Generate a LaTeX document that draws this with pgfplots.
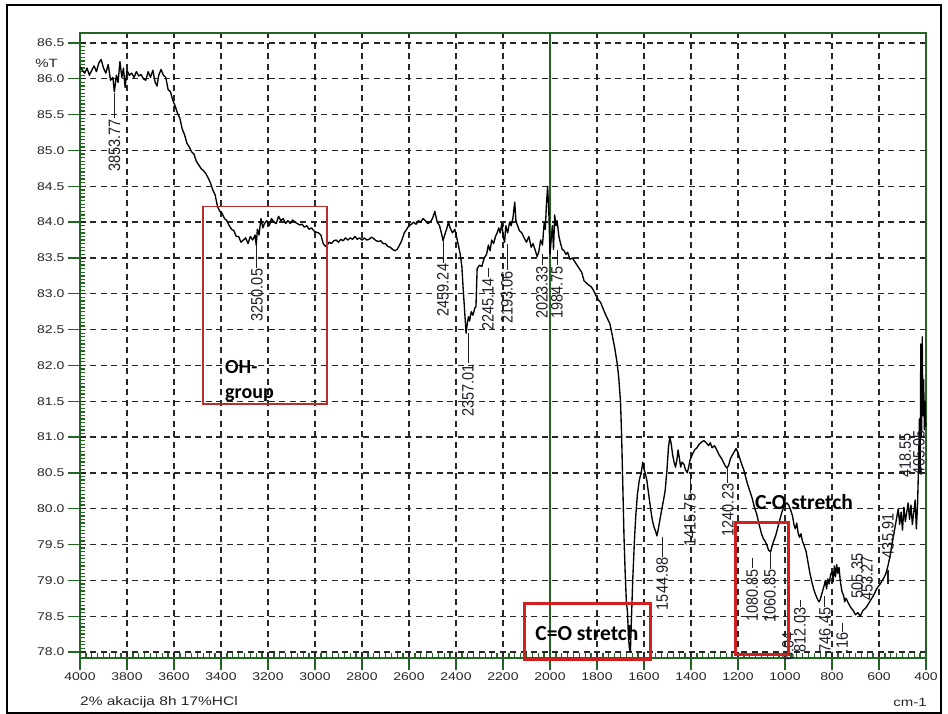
\documentclass[border=0pt]{standalone}
\usepackage{pgfplots}
\pgfplotsset{compat=1.18}
\usepackage{pgfplotstable}
\usepackage{fontspec}
\setmainfont{Liberation Sans}
\newfontfamily\annfont{Carlito}

\definecolor{axisgreen}{RGB}{34,100,34}
\definecolor{boxred}{RGB}{210,32,32}
\definecolor{ohred}{RGB}{185,45,45}
\definecolor{labelink}{RGB}{30,30,40}

% FTIR spectrum: wavenumber (cm-1) vs transmittance (%T)
\pgfplotstableread{
wn T
4000 86.17
3990 86.12
3980 86.08
3970 86.15
3960 86.05
3950 86.12
3940 86.18
3930 86.10
3920 86.22
3910 86.27
3900 86.15
3890 86.08
3880 86.20
3870 85.98
3860 86.02
3853.77 85.82
3845 86.05
3838 85.95
3830 86.24
3822 86.02
3815 86.15
3808 85.88
3800 86.12
3790 86.05
3780 86.08
3770 86.02
3760 86.10
3750 86.04
3740 86.06
3730 86.00
3720 85.98
3710 86.10
3700 86.02
3690 86.12
3680 85.95
3672 85.90
3665 86.05
3655 86.13
3645 86.05
3635 86.02
3625 85.85
3615 85.82
3605 85.70
3595 85.62
3585 85.52
3575 85.45
3565 85.30
3555 85.22
3545 85.10
3535 85.05
3525 84.98
3515 84.95
3505 84.85
3495 84.80
3485 84.75
3475 84.72
3465 84.68
3455 84.62
3445 84.55
3435 84.45
3425 84.38
3415 84.22
3405 84.15
3395 84.12
3385 84.05
3375 84.02
3365 83.95
3355 83.90
3345 83.88
3335 83.80
3325 83.80
3315 83.72
3305 83.75
3295 83.78
3285 83.70
3275 83.80
3265 83.75
3255 83.82
3250.05 83.68
3245 83.90
3238 83.82
3230 84.05
3222 83.92
3215 83.98
3205 84.02
3195 83.95
3185 84.05
3175 84.00
3165 83.98
3155 84.08
3145 84.02
3135 84.05
3125 83.98
3115 84.02
3105 83.98
3095 84.03
3085 84.00
3075 83.98
3065 83.96
3055 83.97
3045 83.93
3035 83.95
3025 83.90
3015 83.92
3005 83.88
2995 83.86
2985 83.85
2975 83.82
2965 83.70
2955 83.66
2948 83.68
2940 83.72
2930 83.70
2920 83.74
2910 83.75
2900 83.72
2890 83.76
2880 83.74
2870 83.78
2860 83.75
2850 83.78
2840 83.76
2830 83.80
2820 83.76
2810 83.78
2800 83.75
2790 83.78
2780 83.75
2770 83.76
2760 83.79
2750 83.77
2740 83.74
2730 83.73
2720 83.74
2710 83.70
2700 83.70
2690 83.66
2680 83.65
2670 83.62
2660 83.60
2650 83.62
2640 83.68
2630 83.75
2620 83.85
2610 83.90
2600 83.95
2590 83.97
2580 84.00
2570 83.97
2560 84.02
2550 84.00
2540 84.05
2530 84.02
2520 83.98
2510 84.00
2500 84.05
2490 84.15
2480 84.00
2470 83.95
2460 83.82
2455 83.74
2450 83.80
2440 83.90
2432 84.00
2425 83.92
2415 83.85
2405 83.90
2398 83.80
2390 83.68
2382 83.55
2375 83.38
2370 83.10
2365 82.85
2360 82.60
2357.01 82.45
2352 82.58
2347 82.68
2342 82.62
2335 82.75
2328 82.70
2320 82.80
2315 82.82
2310 83.35
2300 83.40
2290 83.38
2280 83.50
2270 83.55
2262 83.68
2255 83.60
2248 83.75
2240 83.70
2232 83.80
2225 83.85
2218 83.92
2212 83.85
2205 83.98
2198 83.78
2193.06 83.72
2188 83.95
2180 83.85
2172 84.00
2165 83.95
2158 84.05
2150 84.28
2145 84.02
2138 83.95
2130 83.88
2120 83.85
2110 83.78
2100 83.72
2090 83.80
2080 83.65
2072 83.70
2062 83.60
2055 83.52
2048 83.58
2040 83.75
2032 83.68
2025 83.98
2020 83.90
2015 84.25
2010 84.50
2005 84.15
2000 83.55
1995 83.75
1990 83.95
1985 83.62
1980 84.10
1975 83.95
1970 84.02
1962 83.80
1955 83.70
1948 83.62
1940 83.60
1932 83.55
1925 83.58
1915 83.48
1905 83.50
1895 83.45
1885 83.40
1875 83.35
1865 83.30
1855 83.18
1845 83.15
1835 83.12
1825 83.10
1815 83.05
1805 82.98
1795 82.92
1785 82.88
1775 82.80
1765 82.72
1755 82.65
1745 82.58
1735 82.42
1725 82.25
1715 82.05
1708 81.85
1700 81.50
1695 81.00
1690 80.30
1685 79.60
1680 79.10
1675 78.70
1670 78.55
1666 78.20
1662 78.05
1658 78.00
1655 78.30
1652 78.60
1648 79.00
1644 79.30
1640 79.60
1635 79.90
1628 80.20
1620 80.40
1612 80.50
1605 80.65
1600 80.55
1595 80.50
1588 80.40
1580 80.20
1572 80.00
1565 79.85
1558 79.75
1550 79.68
1544.98 79.62
1540 79.70
1532 79.85
1525 79.98
1518 80.10
1510 80.25
1502 80.55
1496 80.85
1490 81.00
1484 80.90
1478 80.75
1472 80.65
1466 80.58
1460 80.68
1455 80.82
1450 80.72
1444 80.58
1438 80.65
1430 80.62
1424 80.55
1415.75 80.50
1410 80.58
1404 80.68
1395 80.75
1385 80.82
1375 80.85
1365 80.90
1355 80.93
1345 80.95
1335 80.92
1325 80.88
1318 80.92
1310 80.85
1300 80.88
1290 80.82
1280 80.75
1270 80.70
1262 80.65
1255 80.60
1248 80.57
1240.23 80.60
1232 80.70
1224 80.75
1215 80.80
1208 80.84
1200 80.78
1192 80.70
1184 80.62
1176 80.55
1168 80.45
1160 80.35
1150 80.25
1140 80.15
1130 80.02
1120 79.92
1110 79.78
1100 79.65
1092 79.58
1085 79.55
1078 79.50
1070 79.42
1060.85 79.40
1055 79.48
1048 79.55
1040 79.62
1032 79.72
1024 79.82
1016 79.92
1008 80.00
1000 80.05
992 80.08
984 80.05
976 79.98
968 79.90
962 79.78
956 79.72
950 79.80
944 79.66
938 79.60
932 79.65
926 79.55
918 79.48
910 79.40
902 79.25
894 79.10
886 78.98
878 78.88
870 78.80
862 78.74
856 78.70
851 78.72
846 78.78
840 78.85
834 78.92
828 79.00
823 78.88
818 79.02
812 78.95
806 79.08
800 79.12
795 78.98
790 79.20
785 79.05
780 79.22
775 79.10
770 79.18
765 79.00
758 78.85
750 78.78
746 78.70
740 78.75
730 78.68
720 78.62
710 78.58
700 78.52
690 78.55
680 78.50
668 78.58
655 78.62
640 78.70
625 78.78
610 78.88
595 78.95
582 79.02
572 79.08
562 79.20
552 79.35
542 79.55
534 79.70
526 79.85
518 80.00
512 79.78
506 79.95
500 79.70
494 80.02
488 79.82
482 79.95
476 80.08
470 79.85
464 80.05
458 79.78
452 79.95
446 80.12
441 79.72
436 80.05
432 80.55
428 81.25
425 80.50
422 82.30
419 81.00
416 82.40
413 81.30
410 81.80
407 81.10
404 81.50
402 81.15
400 81.20
}\spectrum

\newcommand\plfont{\fontsize{16.5}{17}\selectfont}
% peak label: x, y of label end, y of curve point, text
\newcommand\peak[4]{%
  \draw[labelink, line width=0.9pt] (axis cs:#1,#3) -- (axis cs:#1,#2)
    node[anchor=east, yscale=0.88, rotate=90, inner sep=0.6pt, font=\plfont, text=labelink] {#4};}
\newcommand\plab[3]{%
  \node[anchor=east, yscale=0.88, rotate=90, inner sep=0.6pt, font=\plfont, text=labelink]
    at (axis cs:#1,#2) {#3};}

\begin{document}
\begin{tikzpicture}
\useasboundingbox (-80pt,-56pt) rectangle (868pt,658pt);
\draw[line width=2.4pt] (-73pt,-55pt) rectangle (861pt,653pt);
\begin{axis}[
  at={(0pt,0pt)}, anchor=south west,
  scale only axis, width=846pt, height=625pt,
  x dir=reverse,
  xmin=400, xmax=4000, ymin=77.916, ymax=86.64,
  xtick={400,600,...,4000},
  ytick={78,78.5,...,86.5},
  minor x tick num=7, minor y tick num=9,
  tick pos=left,
  tick align=outside,
  major tick length=12pt, minor tick length=5pt,
  every minor x tick/.append style={yshift=5pt},
  every minor y tick/.append style={xshift=5pt},
  tick style={axisgreen, line width=1.3pt},
  axis line style={axisgreen, line width=2pt},
  grid=major,
  major grid style={black!85, line width=1.3pt, dash pattern=on 6pt off 4.5pt},
  /pgf/number format/assume math mode=true,
  ticklabel style={font=\fontsize{14}{15}\selectfont, text=black!85, yscale=0.8},
  xticklabel style={/pgf/number format/1000 sep={}},
  yticklabel style={/pgf/number format/.cd, fixed, fixed zerofill, precision=1},
  clip=false,
]
% reference line at 2000 cm-1
\draw[axisgreen, line width=1.2pt] (axis cs:2000,77.916) -- (axis cs:2000,86.64);

\addplot[black, line width=1.35pt, line join=round] table[x=wn, y=T] {\spectrum};

% peak labels
\peak{3853.77}{85.45}{85.80}{3853.77}
\peak{3247}{83.36}{83.68}{3250.05}
\peak{2455}{83.43}{83.75}{2459.24}
\peak{2349}{82.03}{82.45}{2357.01}
\peak{2264}{83.23}{83.36}{2245.14}
\peak{2183}{83.33}{83.70}{2193.06}
\peak{2034}{83.40}{83.56}{2023.33}
\peak{1970}{83.40}{83.61}{1984.75}
\peak{1523}{79.33}{79.61}{1544.98}
\peak{1404}{80.22}{80.50}{1415.75}
\peak{1243}{80.36}{80.60}{1240.23}
\peak{1140}{79.17}{79.31}{1080.85}
\peak{1064}{79.16}{79.42}{1060.85}
\plab{987}{78.28}{6.04}
\peak{936}{78.63}{78.73}{812.03}
\peak{830}{78.63}{78.78}{746.45}
\peak{757}{78.28}{78.40}{.16}
\plab{693}{79.38}{505.35}
\plab{651}{79.35}{453.27}
\plab{562}{79.94}{435.91}
\draw[labelink, line width=1.2pt] (axis cs:562,79.15) -- (axis cs:562,78.95);
\plab{489}{81.06}{418.55}
\plab{430}{81.10}{405.05}

% annotation boxes
\draw[ohred, line width=1.6pt] (axis cs:3476.6,84.22) rectangle (axis cs:2948.9,81.46);
\node[anchor=west, font=\annfont\bfseries\fontsize{20}{20}\selectfont, inner sep=0pt] at (axis cs:3383,81.98) {OH-};
\node[anchor=west, font=\annfont\bfseries\fontsize{20}{20}\selectfont, inner sep=0pt] at (axis cs:3383,81.59) {group};
\draw[boxred, line width=3pt] (axis cs:2110.6,78.67) rectangle (axis cs:1570.4,77.90);
\node[font=\annfont\bfseries\fontsize{21.5}{21.5}\selectfont, inner sep=0pt] at (axis cs:1842.5,78.27) {C=O stretch};
\draw[boxred, line width=3pt] (axis cs:1208.5,79.81) rectangle (axis cs:987.2,77.96);
\node[anchor=west, font=\annfont\bfseries\fontsize{21.5}{21.5}\selectfont, inner sep=0pt] at (axis cs:1127.7,80.09) {C-O stretch};

% axis texts
\node[anchor=east, inner sep=0pt, font=\fontsize{15}{15}\selectfont, yscale=0.8, text=black!85] at (axis description cs:-0.026,0.952) {\%T};
\node[anchor=west, inner sep=0pt, font=\fontsize{15.5}{16}\selectfont, yscale=0.8, text=black!85] at (axis description cs:0,-0.0704) {2\% akacija 8h 17\%HCl};
\node[anchor=east, inner sep=0pt, font=\fontsize{15}{15}\selectfont, yscale=0.8, text=black!85] at (axis description cs:1.0012,-0.0704) {cm-1};
\end{axis}
\end{tikzpicture}
\end{document}
